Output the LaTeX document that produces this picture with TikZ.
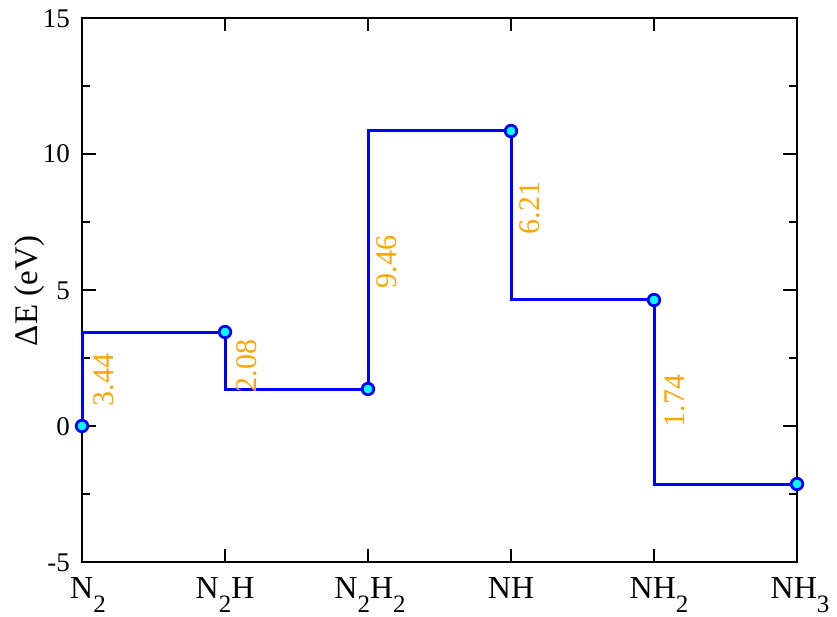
\documentclass[tikz,border=0pt]{standalone}
\usepackage{fontspec}
\setmainfont{Liberation Serif}
\definecolor{lblorange}{RGB}{255,165,0}
\definecolor{stepblue}{RGB}{0,0,255}
\definecolor{dotcyan}{RGB}{0,255,255}
\newcommand{\sbs}[1]{\raisebox{-14pt}{\fontsize{25}{25}\selectfont #1}}
\tikzset{
  frame/.style={draw=black, line width=1.3pt},
  tickmark/.style={draw=black, line width=1.3pt},
  stepline/.style={draw=stepblue, line width=3pt, line join=miter},
  dot/.style={circle, draw=stepblue, fill=dotcyan, line width=2.8pt, minimum size=11.5pt, inner sep=0pt},
  ylab/.style={anchor=east, inner sep=0pt, font=\fontsize{27}{27}\selectfont},
  xlab/.style={anchor=base, inner sep=0pt, font=\fontsize{32}{32}\selectfont},
  vallab/.style={rotate=90, text=lblorange, inner sep=0pt, font=\fontsize{30}{30}\selectfont},
}
\begin{document}
\begin{tikzpicture}[x=1pt, y=-1pt]
\useasboundingbox (0,0) rectangle (837,617);
% frame
\draw[frame] (82,18) rectangle (797,562);
% y ticks (0 at 426, 27.2 px per unit)
\foreach \v in {-5,0,5,10,15} {
  \pgfmathsetmacro{\yy}{426-27.2*\v}
  \draw[tickmark] (82,\yy) -- (96,\yy);
  \draw[tickmark] (797,\yy) -- (783,\yy);
}
\foreach \v in {-2.5,2.5,7.5,12.5} {
  \pgfmathsetmacro{\yy}{426-27.2*\v}
  \draw[tickmark] (82,\yy) -- (90,\yy);
  \draw[tickmark] (797,\yy) -- (789,\yy);
}
% x ticks
\foreach \xx in {225,368,511,654} {
  \draw[tickmark] (\xx,562) -- (\xx,549);
  \draw[tickmark] (\xx,18) -- (\xx,31);
}
% y tick labels
\node[ylab] (y15) at (70,19) {15};
\node[ylab] (y10) at (70,154) {10};
\node[ylab] (y5) at (70,291) {5};
\node[ylab] (y0) at (70,427) {0};
\node[ylab] (ym5) at (70,563) {-5};
% axis title
\node[rotate=90, inner sep=0pt, font=\fontsize{33}{33}\selectfont] (ytitle) at (30,291) {ΔE (eV)};
% x labels
\node[xlab] (lN2) at (88,598) {N\sbs{2}};
\node[xlab] (lN2H) at (225,598) {N\sbs{2}H};
\node[xlab] (lN2H2) at (370,598) {N\sbs{2}H\sbs{2}};
\node[xlab] (lNH) at (511,598) {NH};
\node[xlab] (lNH2) at (659,598) {NH\sbs{2}};
\node[xlab] (lNH3) at (800,598) {NH\sbs{3}};
% step path
\coordinate (p0) at (82,426);
\coordinate (p1) at (225,332);
\coordinate (p2) at (368,389);
\coordinate (p3) at (511,131);
\coordinate (p4) at (654,300);
\coordinate (p5) at (797,484);
\draw[stepline] (p0) |- (p1) |- (p2) |- (p3) |- (p4) |- (p5);
% markers
\foreach \p in {p0,p1,p2,p3,p4,p5} { \node[dot] at (\p) {}; }
% value labels
\node[vallab] (v1) at (104,380) {3.44};
\node[vallab] (v2) at (247,366) {2.08};
\node[vallab] (v3) at (387,262) {9.46};
\node[vallab] (v4) at (530,208) {6.21};
\node[vallab] (v5) at (675,401) {1.74};
\end{tikzpicture}
\end{document}
